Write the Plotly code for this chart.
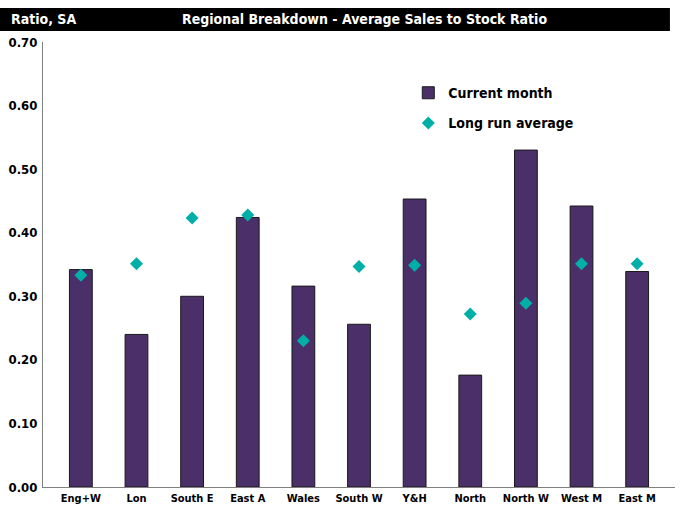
import plotly.graph_objects as go

regions = ["Eng+W", "Lon", "South E", "East A", "Wales", "South W", "Y&H", "North", "North W", "West M", "East M"]
current_month = [0.342, 0.240, 0.300, 0.424, 0.316, 0.256, 0.453, 0.176, 0.530, 0.442, 0.339]
long_run_avg = [0.333, 0.351, 0.423, 0.428, 0.230, 0.347, 0.349, 0.272, 0.289, 0.351, 0.351]
y_ticks = [0.0, 0.1, 0.2, 0.3, 0.4, 0.5, 0.6, 0.7]

FONT = "DejaVu Sans Condensed, Liberation Sans Narrow, Arial Narrow, sans-serif"

fig = go.Figure()
fig.add_trace(go.Bar(
    x=regions, y=current_month, name="Current month", legendgroup="a",
    marker=dict(color="#4B2F68", line=dict(color="#1a1a1a", width=1)),
    width=0.41,
))
fig.add_trace(go.Scatter(
    x=regions, y=long_run_avg, name="Long run average", mode="markers", legendgroup="b",
    marker=dict(symbol="diamond", size=10, color="#00B0A8"),
))

fig.update_layout(
    width=688, height=506,
    margin=dict(l=43, r=13, t=42, b=19, autoexpand=False),
    paper_bgcolor="white", plot_bgcolor="white",
    font=dict(family=FONT, size=12, color="black"),
    showlegend=True,
    legend=dict(x=0.578, y=0.921, xanchor="left", yanchor="top",
                font=dict(family=FONT, size=14, color="black", weight="bold"),
                bgcolor="rgba(0,0,0,0)", tracegroupgap=9, itemwidth=30),
    bargap=0.6,
)
fig.update_xaxes(
    showline=True, linecolor="#808080", linewidth=1, showgrid=False, automargin=False,
    ticks="", ticklabelstandoff=1,
    tickfont=dict(family=FONT, size=11, color="black", weight="bold"),
)
fig.update_yaxes(
    range=[0, 0.7], tickvals=y_ticks, ticktext=[f"{v:.2f}" for v in y_ticks],
    showline=True, linecolor="#808080", linewidth=1, showgrid=False, zeroline=False,
    ticks="", automargin=False, ticklabelstandoff=2,
    tickfont=dict(family=FONT, size=13, color="black", weight="bold"),
)

# Title bar
fig.add_shape(type="rect", xref="paper", yref="paper",
              x0=-0.07, x1=0.992, y0=1.0247, y1=1.0764,
              fillcolor="black", line=dict(width=0), layer="above")
fig.add_annotation(xref="paper", yref="paper", x=-0.054, y=1.051, xanchor="left", yanchor="middle",
                   text="Ratio, SA", showarrow=False,
                   font=dict(family=FONT, size=14, color="white", weight="bold"))
fig.add_annotation(xref="paper", yref="paper", x=0.508, y=1.051, xanchor="center", yanchor="middle",
                   text="Regional Breakdown - Average Sales to Stock Ratio", showarrow=False,
                   font=dict(family=FONT, size=14, color="white", weight="bold"))

fig.write_html("out.html", config={"displayModeBar": False},
               post_script="document.body.style.margin='0';document.body.style.overflow='hidden';")
